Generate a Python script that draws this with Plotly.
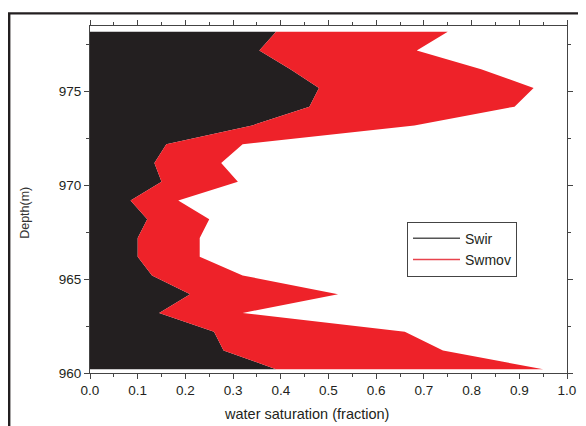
import plotly.graph_objects as go

depth = [960.2, 961.2, 962.2, 963.2, 964.2, 965.2, 966.2, 967.2, 968.2, 969.2,
         970.2, 971.2, 972.2, 973.2, 974.2, 975.2, 976.2, 977.2, 978.2]
swir = [0.39, 0.28, 0.26, 0.145, 0.21, 0.13, 0.10, 0.10, 0.12, 0.085,
        0.15, 0.135, 0.16, 0.34, 0.46, 0.48, 0.42, 0.355, 0.39]
swmov = [0.56, 0.46, 0.40, 0.175, 0.31, 0.19, 0.13, 0.13, 0.13, 0.10,
         0.16, 0.14, 0.16, 0.34, 0.43, 0.45, 0.40, 0.33, 0.36]
x_ticks = [0.0, 0.1, 0.2, 0.3, 0.4, 0.5, 0.6, 0.7, 0.8, 0.9, 1.0]
y_ticks = [960, 965, 970, 975]

BLACK = "#231f20"
RED = "#ee2229"
FONT = "Liberation Sans, Arial, sans-serif"

stack_top = [s + m for s, m in zip(swir, swmov)]

fig = go.Figure()
fig.add_trace(go.Scatter(x=swir, y=depth, mode="lines", fill="tozerox",
                         fillcolor=BLACK, line=dict(width=0, color=BLACK),
                         showlegend=False, hoverinfo="skip"))
fig.add_trace(go.Scatter(x=stack_top, y=depth, mode="lines", fill="tonextx",
                         fillcolor=RED, line=dict(width=0, color=RED),
                         showlegend=False, hoverinfo="skip"))
fig.add_trace(go.Scatter(x=[None], y=[None], mode="lines", name="Swir",
                         line=dict(color="#555555", width=1.5)))
fig.add_trace(go.Scatter(x=[None], y=[None], mode="lines", name="Swmov",
                         line=dict(color="#e8434d", width=1.5)))

# the page has an 8px body margin; positions below are page pixels
OFF = 8
W, H = 586, 426
PL, PR, PT, PB = 90, 567, 22, 373  # plot area in page pixels
L, T = PL - OFF, PT - OFF
R = W - (PR - OFF)
B = H - (PB - OFF)
pw, ph = W - L - R, H - T - B

def px_x(px):
    return (px - OFF - L) / pw

def px_y(py):
    return (H - B - (py - OFF)) / ph

axis_common = dict(showgrid=False, zeroline=False, showline=True, linecolor="#444444",
                   linewidth=1, mirror="ticks", ticks="outside", ticklen=5,
                   tickcolor="#444444", tickwidth=1,
                   tickfont=dict(family=FONT, size=13.5, color=BLACK))

fig.update_layout(
    width=W, height=H,
    margin=dict(l=L, r=R, t=T, b=B),
    paper_bgcolor="white", plot_bgcolor="white",
    xaxis=dict(range=[0, 1], tickvals=x_ticks, tickformat=".1f",
               minor=dict(dtick=0.05, ticks="outside", ticklen=3, tickcolor="#444444"),
               **axis_common),
    yaxis=dict(range=[960, 978.5], tickvals=y_ticks,
               minor=dict(dtick=2.5, ticks="outside", ticklen=3, tickcolor="#444444"),
               **axis_common),
    legend=dict(x=px_x(407), y=px_y(220), xanchor="left", yanchor="top",
                bordercolor="#444444", borderwidth=1, bgcolor="white",
                font=dict(family=FONT, size=14, color=BLACK),
                itemwidth=47, tracegroupgap=0, traceorder="normal"),
    showlegend=True,
)

fig.add_annotation(text="water saturation (fraction)", x=px_x(306), y=px_y(414),
                   xref="paper", yref="paper", showarrow=False,
                   xanchor="center", yanchor="middle",
                   font=dict(family=FONT, size=14.5, color=BLACK))
fig.add_annotation(text="Depth(m)", x=px_x(25), y=px_y(211),
                   xref="paper", yref="paper", showarrow=False, textangle=-90,
                   xanchor="center", yanchor="middle",
                   font=dict(family=FONT, size=12.5, color="#333333"))

fig.add_shape(type="rect", xref="paper", yref="paper",
              x0=px_x(9.2), x1=px_x(700), y0=px_y(520), y1=px_y(9.2),
              line=dict(color=BLACK, width=2.4), fillcolor="rgba(0,0,0,0)", layer="below")

fig.write_html("out.html")
